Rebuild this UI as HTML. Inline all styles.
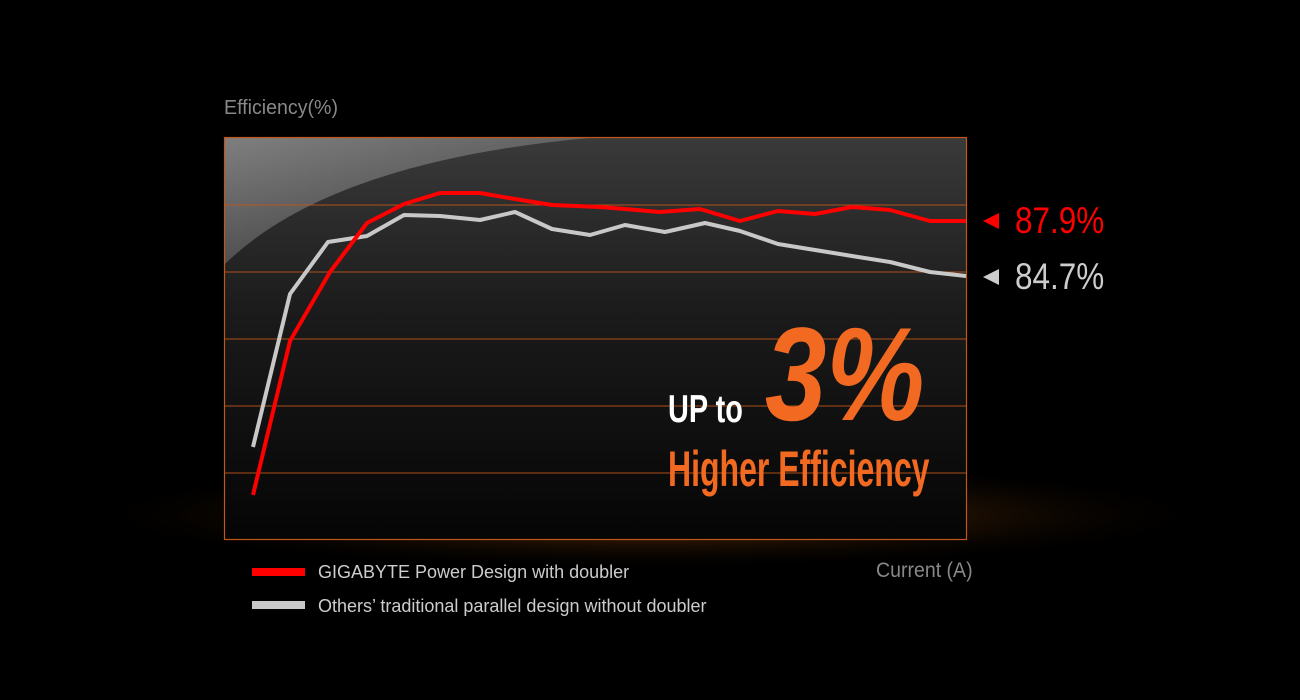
<!DOCTYPE html>
<html><head><style>
body{margin:0;width:1300px;height:700px;background:#000;overflow:hidden;position:relative;font-family:"Liberation Sans",sans-serif}
.t{position:absolute;white-space:nowrap;transform-origin:0 0}
</style></head><body>
<svg width="1300" height="700" style="position:absolute;left:0;top:0">
<defs>
<radialGradient id="glow" cx="50%" cy="50%" r="50%">
<stop offset="0" stop-color="#9a5210" stop-opacity="0.85"/>
<stop offset="0.5" stop-color="#4a2506" stop-opacity="0.45"/>
<stop offset="1" stop-color="#000" stop-opacity="0"/>
</radialGradient>
<linearGradient id="bg" x1="0" y1="0" x2="0" y2="1">
<stop offset="0" stop-color="#3a3a3a"/>
<stop offset="0.45" stop-color="#1a1a1a"/>
<stop offset="1" stop-color="#050505"/>
</linearGradient>
<linearGradient id="gl" x1="0" y1="0" x2="1" y2="1">
<stop offset="0" stop-color="#fff" stop-opacity="0.35"/>
<stop offset="1" stop-color="#fff" stop-opacity="0.05"/>
</linearGradient>
</defs>
<ellipse cx="650" cy="515" rx="580" ry="55" fill="url(#glow)"/>
<rect x="224" y="137" width="743" height="403" fill="url(#bg)"/>
<path d="M224 137 L600 137 Q330 160 224 265 Z" fill="url(#gl)"/>
<g stroke="#c0561a" stroke-width="1" opacity="0.9">
<line x1="224" y1="205" x2="967" y2="205"/>
<line x1="224" y1="272" x2="967" y2="272"/>
<line x1="224" y1="339" x2="967" y2="339"/>
<line x1="224" y1="406" x2="967" y2="406"/>
<line x1="224" y1="473" x2="967" y2="473"/>
</g>
<rect x="224.5" y="137.5" width="742" height="402" fill="none" stroke="#c0561a" stroke-width="1.2"/>
<polyline fill="none" stroke="#c8c8c8" stroke-width="4" stroke-linejoin="round" points="253,447 290,294 328,242 367,236 404,215 440,216 480,220 515,212 552,229 590,235 625,225 665,232 705,223 740,231 778,244 815,250 852,256 890,262 930,272 966,276"/>
<polyline fill="none" stroke="#f00" stroke-width="4" stroke-linejoin="round" points="253,495 290,341 330,272 367,223 404,204 440,193 480,193 515,199 552,205 600,207 625,209 660,212 700,209 740,221 778,211 815,214 852,207 890,210 930,221 966,221"/>
<polygon points="983,221 999,213 999,229" fill="#f00"/>
<polygon points="983,277 999,269 999,285" fill="#ccc"/>
<rect x="252" y="568" width="53" height="8" fill="#f00"/>
<rect x="252" y="601" width="53" height="8" fill="#c8c8c8"/>
</svg>
<div class="t" style="left:224px;top:97px;font-size:20px;color:#888;transform:scaleX(0.98)">Efficiency(%)</div>
<div class="t" style="left:1015px;top:200px;font-size:37px;color:#f00;transform:scaleX(0.85)">87.9%</div>
<div class="t" style="left:1015px;top:256px;font-size:37px;color:#ccc;transform:scaleX(0.85)">84.7%</div>
<div class="t" style="left:876px;top:559px;font-size:21px;color:#888;transform:scaleX(0.93)">Current (A)</div>
<div class="t" style="left:318px;top:562px;font-size:18px;color:#ccc">GIGABYTE Power Design with doubler</div>
<div class="t" style="left:318px;top:596px;font-size:18px;color:#ccc">Others’ traditional parallel design without doubler</div>
<div class="t" style="left:668px;top:388px;font-size:39px;font-weight:bold;color:#fff;transform:scaleX(0.74)">UP to</div>
<div class="t" style="left:765px;top:309px;font-size:133px;font-weight:bold;font-style:italic;color:#f26a21;line-height:133px;transform:scaleX(0.83)">3%</div>
<div class="t" style="left:668px;top:440px;font-size:50px;font-weight:bold;color:#f26a21;transform:scaleX(0.64)">Higher Efficiency</div>
</body></html>
